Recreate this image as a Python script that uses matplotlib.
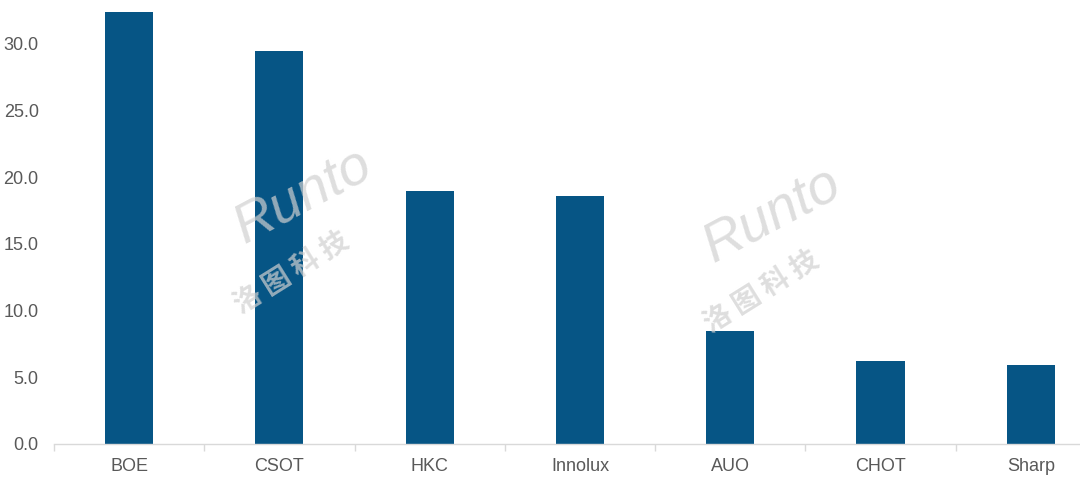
import matplotlib.pyplot as plt
import numpy as np

# ==== data ====
companies = ['BOE', 'CSOT', 'HKC', 'Innolux', 'AUO', 'CHOT', 'Sharp']
values = [32.4, 29.5, 19.0, 18.6, 8.5, 6.2, 5.9]
yticks = [0, 5, 10, 15, 20, 25, 30]

bar_color = '#065585'
text_color = '#595959'
axis_color = '#d9d9d9'

plt.rcParams['font.family'] = ['Liberation Sans', 'DejaVu Sans']

fig = plt.figure(figsize=(10.8, 4.79), dpi=100)
ax = fig.add_axes([0.05, 0.0731, 0.974, 0.9186])

x = np.arange(len(companies))
ax.bar(x, values, width=0.32, color=bar_color, zorder=2)

ax.set_xlim(-0.5, len(companies) - 0.5)
ax.set_ylim(0, 33)
ax.set_yticks(yticks)
ax.set_yticklabels([f'{v:.1f}' for v in yticks])
ax.set_xticks(x)
ax.set_xticklabels(companies)
ax.set_xticks(np.arange(-0.5, len(companies), 1), minor=True)

ax.tick_params(axis='y', length=0, labelsize=13, labelcolor=text_color, pad=11)
ax.tick_params(axis='x', which='major', length=0, labelsize=13, labelcolor=text_color, pad=10)
ax.tick_params(axis='x', which='minor', length=5, color=axis_color, width=1)

for s in ['top', 'right', 'left']:
    ax.spines[s].set_visible(False)
ax.spines['bottom'].set_color(axis_color)
ax.spines['bottom'].set_linewidth(1)

# watermark
for (wx, wy) in [(0.275, 0.52), (0.71, 0.48)]:
    fig.text(wx + 0.005, wy + 0.07, 'Runto', fontsize=40, fontstyle='italic', color='#d0d0d0',
             alpha=0.7, rotation=28, ha='center', va='center', zorder=5)
    fig.text(wx - 0.005, wy - 0.09, '洛 图 科 技', fontsize=20, fontweight='bold',
             family=['Noto Sans CJK SC', 'DejaVu Sans'], color='#d0d0d0',
             alpha=0.7, rotation=32, ha='center', va='center', zorder=5)

fig.savefig('out.png', dpi=100)
